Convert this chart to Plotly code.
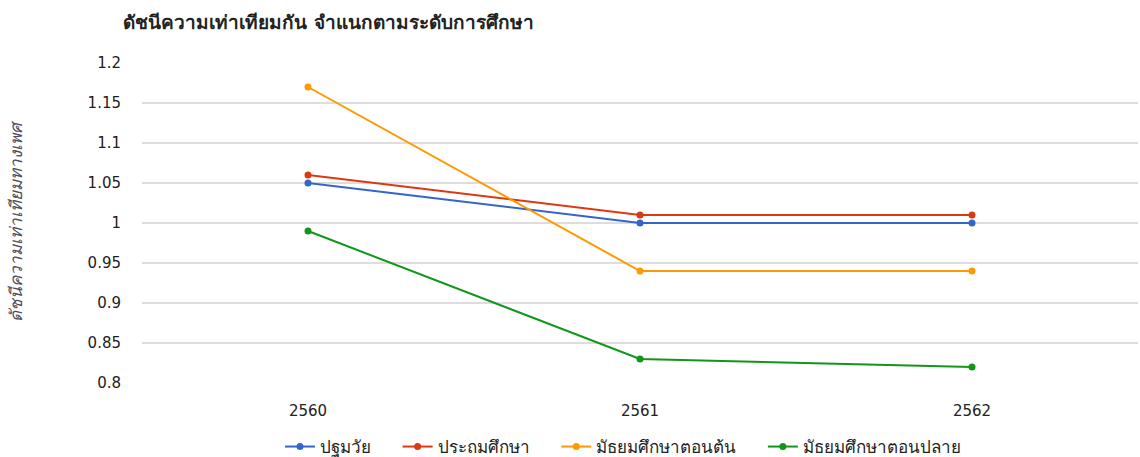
import plotly.graph_objects as go

years = ["2560", "2561", "2562"]
series_names = ["ปฐมวัย", "ประถมศึกษา", "มัธยมศึกษาตอนต้น", "มัธยมศึกษาตอนปลาย"]
early_childhood = [1.05, 1.00, 1.00]
primary = [1.06, 1.01, 1.01]
lower_secondary = [1.17, 0.94, 0.94]
upper_secondary = [0.99, 0.83, 0.82]
y_ticks = [0.8, 0.85, 0.9, 0.95, 1.0, 1.05, 1.1, 1.15, 1.2]
y_tick_text = ["0.8", "0.85", "0.9", "0.95", "1", "1.05", "1.1", "1.15", "1.2"]

colors = ["#3366cc", "#dc3912", "#ff9900", "#109618"]
values = [early_childhood, primary, lower_secondary, upper_secondary]

FONT = "'DejaVu Sans', Tahoma, sans-serif"
PAD = "\u00a0" * 4

fig = go.Figure()
for i, (name, vals, col) in enumerate(zip(series_names, values, colors)):
    label = name + (PAD if i < len(series_names) - 1 else "")
    fig.add_trace(go.Scatter(
        x=years, y=vals, name=label, mode="lines+markers",
        line=dict(color=col, width=2),
        marker=dict(color=col, size=7),
    ))

fig.update_layout(
    width=1140, height=457,
    margin=dict(l=142, r=2, t=63, b=74),
    paper_bgcolor="white", plot_bgcolor="white",
    font=dict(family=FONT, size=15, color="#222222"),
    title=dict(text="<b>ดัชนีความเท่าเทียมกัน จำแนกตามระดับการศึกษา</b>",
               x=123 / 1140, xanchor="left", y=1 - 22 / 457, yanchor="middle",
               font=dict(size=19, color="#222222")),
    showlegend=True,
    legend=dict(orientation="h", x=280 / 1140, xanchor="left", xref="container",
                y=1 - 447 / 457, yanchor="middle", yref="container",
                font=dict(size=17, color="#222222")),
    xaxis=dict(type="category", range=[-0.5, 2.5], showgrid=False, zeroline=False,
               showline=False, ticks="", tickfont=dict(size=15), ticklabelstandoff=17,
               automargin=False),
    yaxis=dict(range=[0.8, 1.2], tickvals=y_ticks, ticktext=y_tick_text,
               showgrid=True, gridcolor="#dddddd", gridwidth=2, zeroline=False,
               showline=False, ticks="outside", ticklen=17, tickcolor="rgba(0,0,0,0)",
               tickfont=dict(size=15), automargin=False,
               title=dict(text="<i>ดัชนีความเท่าเทียมทางเพศ</i>", standoff=60,
                          font=dict(size=17, color="#4d4d5d"))),
)

fig.write_html("out.html", config={"displayModeBar": False},
               post_script="document.body.style.margin='0';document.body.style.padding='0';")
